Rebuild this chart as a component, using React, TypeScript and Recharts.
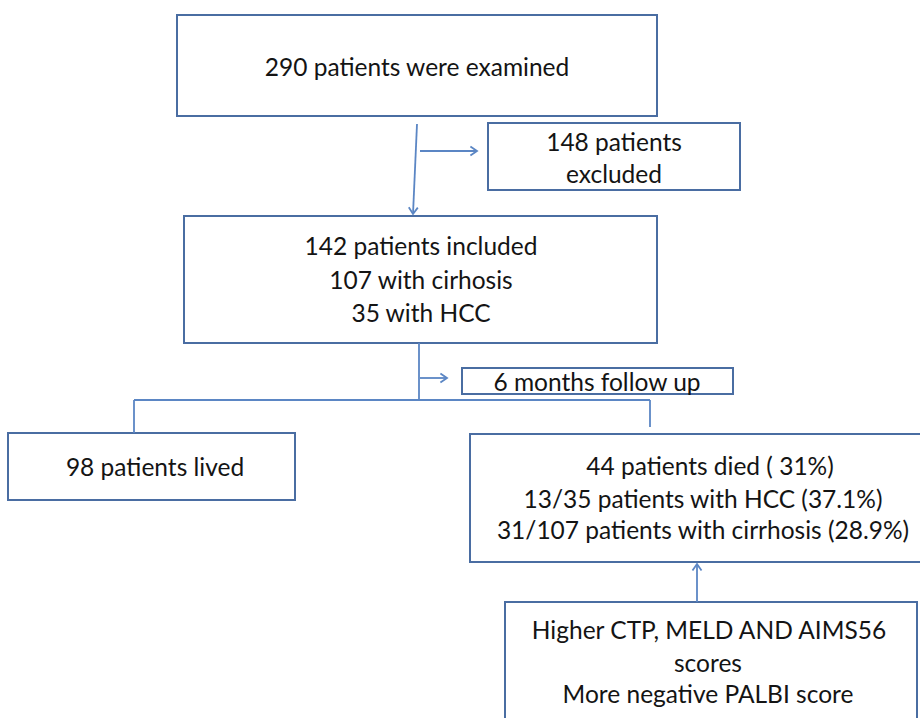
import { ScatterChart, Scatter, XAxis, YAxis, ReferenceArea, ReferenceLine } from 'recharts';

// flowchart boxes (page coordinates, y grows downward)
const boxes = [
  { id: 'examined', x1: 177, x2: 657, y1: 15, y2: 116 },
  { id: 'excluded', x1: 488, x2: 740, y1: 123, y2: 190 },
  { id: 'included', x1: 184, x2: 657, y1: 216, y2: 343 },
  { id: 'followup', x1: 462, x2: 733, y1: 368, y2: 394 },
  { id: 'lived', x1: 8, x2: 295, y1: 433, y2: 500 },
  { id: 'died', x1: 470, x2: 930, y1: 434, y2: 562 },
  { id: 'scores', x1: 505, x2: 917, y1: 602, y2: 730 },
];

const labels = [
  { x: 417, y: 66, text: '290 patients were examined' },
  { x: 614, y: 141, text: '148 patients' },
  { x: 614, y: 173, text: 'excluded' },
  { x: 421, y: 245, text: '142 patients included' },
  { x: 421, y: 279, text: '107 with cirhosis' },
  { x: 421, y: 312, text: '35 with HCC' },
  { x: 597, y: 381, text: '6 months follow up' },
  { x: 155, y: 466, text: '98 patients lived' },
  { x: 710, y: 465, text: '44 patients died ( 31%)' },
  { x: 703, y: 498, text: '13/35 patients with HCC (37.1%)' },
  { x: 703, y: 529, text: '31/107 patients with cirrhosis (28.9%)' },
  { x: 709, y: 629, text: 'Higher CTP, MELD AND AIMS56' },
  { x: 708, y: 662, text: 'scores' },
  { x: 708, y: 693, text: 'More negative PALBI score' },
];

const connectors = [
  { x1: 417, y1: 124, x2: 413, y2: 214, arrow: true },
  { x1: 420, y1: 151, x2: 477, y2: 151, arrow: true },
  { x1: 419, y1: 343, x2: 419, y2: 400, arrow: false },
  { x1: 420, y1: 378, x2: 447, y2: 378, arrow: true },
  { x1: 134, y1: 400, x2: 650, y2: 400, arrow: false },
  { x1: 134, y1: 400, x2: 134, y2: 433, arrow: false },
  { x1: 650, y1: 400, x2: 650, y2: 427, arrow: false },
  { x1: 697, y1: 602, x2: 697, y2: 564, arrow: true },
];

const BOX = '#4a6da2';
const LINE = '#5b86c4';

const arrowShape = (withHead: boolean) => (props: any) => {
  const { x1, y1, x2, y2 } = props;
  const ang = Math.atan2(y2 - y1, x2 - x1);
  const len = 8;
  const spread = 0.6;
  const ax = x2 - len * Math.cos(ang - spread);
  const ay = y2 - len * Math.sin(ang - spread);
  const bx = x2 - len * Math.cos(ang + spread);
  const by = y2 - len * Math.sin(ang + spread);
  return (
    <g>
      <line x1={x1} y1={y1} x2={x2} y2={y2} stroke={LINE} strokeWidth={1.8} />
      {withHead && (
        <path d={`M${ax},${ay} L${x2},${y2} L${bx},${by}`} fill="none" stroke={LINE} strokeWidth={1.8} />
      )}
    </g>
  );
};

const LabelText = (props: any) => {
  const { cx, cy, payload } = props;
  return (
    <text x={cx} y={cy} textAnchor="middle" dominantBaseline="central"
      fontFamily="Lato, 'Open Sans', sans-serif" fontSize={24.5} fill="#141414">
      {payload.text}
    </text>
  );
};

export default function App() {
  return (
    <div style={{ position: 'absolute', left: 0, top: 0, width: 920, height: 718, background: '#fff' }}>
      <ScatterChart width={920} height={718} margin={{ top: 0, right: 0, bottom: 0, left: 0 }}>
        <XAxis type="number" dataKey="x" domain={[0, 920]} hide allowDataOverflow />
        <YAxis type="number" dataKey="y" domain={[0, 718]} reversed hide allowDataOverflow width={0} />
        {boxes.map((b) => (
          <ReferenceArea key={b.id} x1={b.x1} x2={b.x2} y1={b.y1} y2={b.y2}
            fill="none" stroke={BOX} strokeWidth={2} ifOverflow="visible" />
        ))}
        {connectors.map((c, i) => (
          <ReferenceLine key={i} segment={[{ x: c.x1, y: c.y1 }, { x: c.x2, y: c.y2 }]}
            ifOverflow="visible" shape={arrowShape(c.arrow)} />
        ))}
        <Scatter data={labels} shape={LabelText} isAnimationActive={false} />
      </ScatterChart>
    </div>
  );
}
